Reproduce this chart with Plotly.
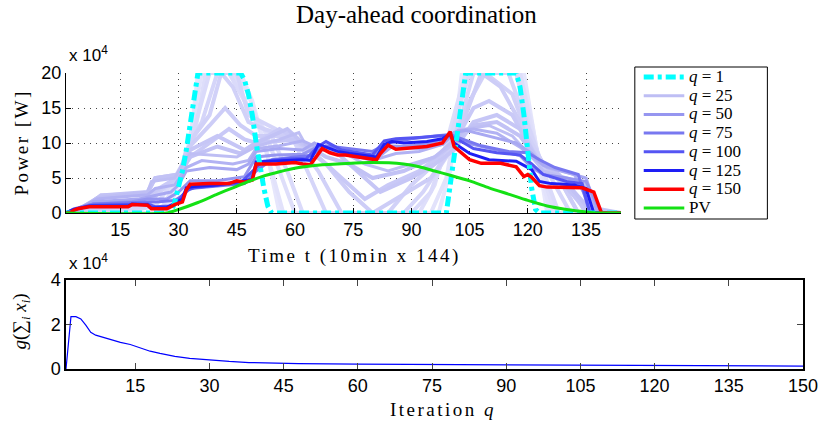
import plotly.graph_objects as go

# ---------------- data (power in units of 1e4 W) ----------------
t_q1 = [1, 28, 29, 30, 31, 32, 33, 34, 35, 46, 47, 48, 49, 50, 51, 52, 53, 54, 99, 100, 101, 102, 103, 104, 117, 118, 119, 120, 121, 122, 123, 144]
p_q1 = [0, 0, 1.5, 3.5, 6, 9, 12.5, 16.5, 20, 20, 19, 17, 14, 10, 6.5, 3.5, 1, 0, 0, 4, 9, 13, 17, 20, 20, 18, 14, 9, 3.5, 0.5, 0, 0]

t_q2 = [1, 27, 30, 33, 35, 46, 49, 53, 56, 97, 100, 103, 119, 122, 125, 144]
p_q2 = [0, 0, 4, 10, 20, 20, 16, 8, 0, 0, 6, 20, 20, 10, 0, 0]

t_q3 = [1, 26, 29, 32, 36, 45, 48, 52, 57, 95, 99, 102, 104, 118, 121, 124, 126, 144]
p_q3 = [0, 0, 3, 8, 20, 20, 17, 10, 0, 0, 5, 14, 20, 20, 13, 4, 0, 0]

t_q4 = [1, 25, 28, 31, 34, 37, 44, 48, 52, 56, 60, 92, 96, 100, 104, 118, 121, 124, 127, 144]
p_q4 = [0, 0, 3, 6, 11, 20, 20, 15, 12, 6, 0, 0, 4, 12, 20, 20, 12, 5, 0, 0]

t_q5 = [1, 15, 24, 28, 32, 38, 43, 47, 50, 54, 58, 62, 90, 95, 99, 105, 117, 120, 124, 128, 144]
p_q5 = [0, 0, 1, 4, 8, 20, 20, 16, 13, 11, 6, 0, 0, 3, 9, 20, 20, 13, 6, 0, 0]

t_q7 = [1, 8, 22, 25, 30, 33, 36, 40, 45, 48, 55, 60, 64, 68, 88, 93, 99, 103, 106, 115, 119, 123, 127, 131, 144]
p_q7 = [0, 0, 1, 3, 5, 10, 13, 20, 20, 14, 12, 10, 5, 0, 0, 3, 8, 14, 20, 20, 14, 8, 4, 0, 0]

t_q9 = [1, 10, 22, 26, 30, 34, 38, 41, 44, 48, 52, 58, 62, 66, 72, 84, 90, 96, 101, 105, 109, 116, 120, 124, 129, 133, 144]
p_q9 = [0, 0.5, 1.5, 3.5, 5, 11, 14, 20, 18, 13, 12, 11, 9, 6, 0, 0, 4, 7, 11, 16, 20, 17, 11, 7, 4, 0, 0]

t_q12 = [1, 6, 20, 24, 30, 32, 38, 42, 46, 50, 58, 62, 68, 74, 80, 86, 95, 100, 104, 108, 113, 118, 122, 128, 133, 144]
p_q12 = [0, 0.5, 1.5, 3, 5, 9, 12.5, 15, 12.5, 11, 11, 9.5, 7, 3, 0, 2, 5, 9, 14, 20, 18, 13, 8, 5, 0, 0]

t_q14 = [1, 7, 20, 24, 30, 33, 38, 43, 47, 50, 56, 62, 66, 72, 78, 84, 92, 98, 102, 106, 110, 116, 120, 124, 130, 135, 144]
p_q14 = [0, 1, 2, 3.2, 5.2, 8, 10, 12, 10.5, 10, 12, 10, 8, 5, 2, 4, 6, 8.5, 11, 15, 16, 14, 10, 6.5, 4.5, 0, 0]

t_q18 = [1, 5, 10, 22, 24, 30, 33, 40, 47, 50, 60, 64, 70, 76, 82, 90, 96, 101, 106, 112, 118, 122, 128, 134, 144]
p_q18 = [0, 0.5, 2.5, 2.8, 5, 5.5, 9, 11, 9, 10, 10.5, 9, 9, 6, 3, 5, 7, 9, 13, 14, 12, 8, 5, 1, 0]

t_q21 = [1, 5, 10, 22, 24, 30, 33, 40, 46, 50, 58, 62, 68, 74, 80, 88, 96, 101, 106, 112, 118, 122, 128, 136, 144]
p_q21 = [0, 0.5, 2.5, 3, 5, 5.5, 8, 9.5, 8.5, 10, 12, 10, 8, 7, 5, 6, 8, 10, 12.5, 13, 11, 8, 5.5, 0.5, 0]

t_q25 = [1, 4, 9, 22, 23, 29, 31, 33, 45, 50, 56, 61, 63, 68, 73, 78, 84, 90, 96, 100, 104, 110, 116, 121, 124, 130, 135, 138, 144]
p_q25 = [0, 0.5, 2.2, 3, 4.5, 5, 7, 8.5, 8, 9.5, 10.5, 11.5, 9.5, 9, 8.5, 7, 6, 7, 8, 10, 12, 12.5, 11, 8, 6, 5, 4, 0, 0]

t_q30 = [1, 4, 9, 22, 24, 29, 32, 36, 44, 48, 50, 56, 62, 66, 72, 80, 86, 92, 98, 102, 106, 112, 118, 121, 125, 132, 137, 144]
p_q30 = [0, 0.6, 2.0, 2.6, 3.5, 4.0, 6.5, 7.5, 7.0, 7.5, 9.2, 9.6, 10.3, 9.3, 8.6, 7.5, 8.5, 8.8, 9.8, 11.8, 12.0, 11.4, 9.4, 8.0, 6.5, 5.5, 0, 0]

t_q35 = [1, 4, 8, 20, 23, 28, 30, 32, 38, 45, 48, 50, 56, 62, 65, 70, 76, 82, 85, 92, 98, 101, 104, 110, 117, 121, 124, 130, 135, 138, 144]
p_q35 = [0, 0.6, 1.6, 2.0, 2.4, 3.0, 4.0, 6.0, 6.5, 6.2, 7.0, 8.8, 9.2, 9.0, 10.0, 8.6, 8.0, 8.2, 9.5, 9.2, 9.8, 11.5, 11.8, 11.0, 10.0, 8.5, 6.8, 5.8, 5.0, 0, 0]

t_q50 = [1, 4, 8, 18, 22, 27, 30, 33, 40, 47, 50, 55, 62, 66, 72, 80, 83, 88, 95, 100, 102, 110, 118, 121, 124, 130, 135, 139, 144]
p_q50 = [0, 0.5, 1.3, 1.6, 2, 2, 3, 4.6, 4.6, 5.2, 8, 8.3, 8.4, 9.5, 9, 8.2, 9.6, 9.5, 10, 10.8, 10.3, 9.3, 8.2, 6.5, 5.5, 5, 4.5, 0, 0]

t_q75 = [1, 3, 8, 20, 25, 29, 31, 33, 40, 47, 50, 54, 60, 64, 68, 73, 80, 84, 90, 96, 100, 103, 108, 115, 120, 123, 127, 133, 136, 144]
p_q75 = [0, 0.6, 1.3, 1.5, 1.6, 1.8, 2.5, 3.5, 3.8, 4.2, 6.0, 7.6, 8.0, 8.2, 9.6, 9.3, 8.8, 10.0, 10.6, 11.0, 11.2, 10.6, 9.6, 8.8, 8.6, 7.6, 6.5, 5.5, 0, 0]

t_q100 = [1, 3, 8, 17, 22, 24, 28, 30, 32, 34, 40, 46, 50, 52, 58, 63, 66, 68, 72, 80, 83, 86, 92, 97, 100, 102, 106, 112, 118, 121, 124, 130, 134, 136, 144]
p_q100 = [0, 0.5, 1.1, 1.2, 1.3, 0.9, 1.0, 1.8, 3.2, 3.6, 4.0, 4.3, 6.5, 7.4, 7.7, 7.8, 9.5, 10.2, 9.0, 8.3, 10.3, 10.6, 10.8, 11.0, 11.0, 10.5, 9.2, 8.6, 8.3, 7.0, 5.5, 4.5, 4.2, 0, 0]

t_q125 = [1, 3, 7, 17, 18, 22, 23, 27, 29, 31, 32, 34, 40, 45, 49, 50, 56, 62, 64, 66, 68, 71, 74, 81, 83, 85, 88, 94, 98, 100, 101, 105, 110, 117, 119, 121, 123, 126, 132, 135, 137, 144]
p_q125 = [0, 0.5, 1.0, 1.0, 1.3, 1.2, 0.7, 0.8, 1.4, 2.0, 3.6, 3.8, 4.0, 4.5, 4.8, 7.3, 7.5, 7.6, 7.5, 9.8, 9.4, 8.8, 8.5, 8.0, 9.8, 10.2, 10.0, 10.2, 10.6, 11.3, 10.0, 8.5, 7.6, 7.4, 6.8, 6.2, 4.5, 4.2, 4.0, 3.5, 0, 0]

t_q150 = [1, 2, 3, 4, 7, 17, 18, 22, 23, 27, 29, 31, 32, 33, 38, 43, 45, 47, 49, 50, 55, 60, 62, 64, 67, 69, 71, 73, 81, 82, 84, 86, 94, 98, 100, 101, 105, 108, 113, 117, 119, 120, 121, 123, 125, 132, 134, 137, 139, 144]
p_q150 = [0, 0, 0.4, 0.6, 0.9, 0.9, 1.2, 1.1, 0.6, 0.6, 1.2, 1.6, 3.3, 4.1, 4.2, 4.2, 4.6, 4.4, 4.7, 7.0, 7.0, 7.2, 7.0, 6.9, 9.2, 8.6, 8.3, 8.3, 7.6, 8.5, 9.7, 9.1, 9.5, 10.0, 11.6, 9.5, 7.6, 7.1, 7.1, 6.6, 5.2, 5.5, 5.1, 3.9, 3.7, 3.7, 3.6, 3.0, 0, 0]

t_pv = [1, 27, 30, 35, 40, 44, 48, 52, 56, 61, 65, 71, 79, 88, 92, 96, 100, 105, 110, 115, 120, 125, 130, 135, 138, 144]
p_pv = [0, 0, 0.5, 1.5, 2.7, 3.6, 4.5, 5.3, 5.9, 6.5, 6.8, 7.0, 7.2, 7.0, 6.6, 6.0, 5.4, 4.6, 3.6, 2.7, 1.8, 1.0, 0.5, 0.15, 0, 0]

iter_q = [1, 2, 3, 4, 5, 6, 7, 8, 10, 12, 14, 16, 18, 20, 23, 26, 30, 34, 38, 42, 48, 60, 75, 90, 105, 120, 135, 150]
g_val = [0, 2.35, 2.35, 2.25, 1.97, 1.65, 1.52, 1.45, 1.32, 1.2, 1.1, 0.95, 0.8, 0.7, 0.57, 0.48, 0.4, 0.34, 0.29, 0.26, 0.24, 0.22, 0.2, 0.18, 0.16, 0.15, 0.14, 0.13]

time_ticks = [15, 30, 45, 60, 75, 90, 105, 120, 135]
power_ticks = [0, 5, 10, 15, 20]
iter_ticks = [15, 30, 45, 60, 75, 90, 105, 120, 135, 150]
g_ticks = [0, 2, 4]

legend_q = [1, 25, 50, 75, 100, 125, 150]

SERIF = "Liberation Serif"
SANS = "Liberation Sans"

# ---- styles ----
C_Q1, C_Q25, C_Q50, C_Q75 = "#00ffff", "rgb(190,190,244)", "rgb(150,150,240)", "rgb(120,120,240)"
C_Q100, C_Q125, C_Q150, C_PV = "rgb(85,85,243)", "rgb(30,30,245)", "#ff0000", "rgb(20,225,20)"
DASH_Q1 = "10px,4px,4px,4px"


def it(s, size):
    return '<span style="font-style:italic;font-size:%dpx">%s</span>' % (size, s)


def rm(s, size):
    return '<span style="font-size:%dpx">%s</span>' % (size, s)


fig = go.Figure()

hidden = [
    (t_q2, p_q2, "rgb(230,230,252)"),
    (t_q3, p_q3, "rgb(226,226,251)"),
    (t_q4, p_q4, "rgb(222,222,250)"),
    (t_q5, p_q5, "rgb(218,218,250)"),
    (t_q7, p_q7, "rgb(213,213,249)"),
    (t_q9, p_q9, "rgb(209,209,248)"),
    (t_q12, p_q12, "rgb(205,205,247)"),
    (t_q14, p_q14, "rgb(201,201,247)"),
    (t_q18, p_q18, "rgb(198,198,246)"),
    (t_q21, p_q21, "rgb(194,194,245)"),
]
for tx, py, col in hidden:
    fig.add_trace(go.Scatter(x=tx, y=py, mode="lines", line=dict(color=col, width=4), hoverinfo="skip"))

series = [
    (t_q25, p_q25, C_Q25, 3, None, "q = 25"),
    (t_q30, p_q30, "rgb(178,178,243)", 3, None, "q = 30"),
    (t_q35, p_q35, "rgb(168,168,242)", 3, None, "q = 35"),
    (t_q50, p_q50, C_Q50, 3, None, "q = 50"),
    (t_q75, p_q75, C_Q75, 3, None, "q = 75"),
    (t_q100, p_q100, C_Q100, 3, None, "q = 100"),
    (t_q125, p_q125, C_Q125, 3, None, "q = 125"),
    (t_q1, p_q1, C_Q1, 5, DASH_Q1, "q = 1"),
    (t_q150, p_q150, C_Q150, 3.5, None, "q = 150"),
]
for tx, py, col, w, dash, nm in series:
    fig.add_trace(go.Scatter(x=tx, y=py, mode="lines", name=nm,
                             line=dict(color=col, width=w, dash=dash)))
fig.add_trace(go.Scatter(x=t_pv, y=p_pv, mode="lines", name="PV",
                         line=dict(color=C_PV, width=3, shape="spline", smoothing=0.6)))

fig.add_trace(go.Scatter(x=iter_q, y=g_val, mode="lines", line=dict(color="#0000ff", width=1.2),
                         xaxis="x2", yaxis="y2"))

axis_font = dict(family=SANS, size=18, color="black")
fig.update_layout(
    width=830, height=423,
    margin=dict(l=66, r=19, t=73, b=54),
    paper_bgcolor="white", plot_bgcolor="white",
    font=dict(family=SERIF, color="black"),
    showlegend=False,
    xaxis=dict(domain=[0, 0.753], range=[1, 144], tickvals=time_ticks, ticks="inside", ticklen=5,
               tickcolor="black", showline=True, linecolor="black", linewidth=1, zeroline=False,
               showgrid=True, gridcolor="#444", gridwidth=1, griddash="1px,5px", tickfont=axis_font,
               anchor="y"),
    yaxis=dict(domain=[0.527, 1], range=[0, 20], tickvals=power_ticks, ticks="inside", ticklen=5,
               tickcolor="black", showline=True, linecolor="black", linewidth=1, zeroline=False,
               showgrid=True, gridcolor="#444", gridwidth=1, griddash="1px,5px", tickfont=axis_font,
               anchor="x"),
    xaxis2=dict(domain=[0, 1], range=[1, 150], tickvals=iter_ticks, ticks="inside", ticklen=6,
                tickcolor="#444", showline=True, linecolor="black", linewidth=1.5, mirror="ticks",
                zeroline=False, showgrid=False, tickfont=axis_font, anchor="y2"),
    yaxis2=dict(domain=[0, 0.3007], range=[0, 4], tickvals=g_ticks, ticks="inside", ticklen=6,
                tickcolor="#444", showline=True, linecolor="black", linewidth=1.5, mirror="ticks",
                zeroline=False, showgrid=False, tickfont=axis_font, anchor="x2"),
)

# ---- legend box (paper coordinates) ----
W_PLOT, H_PLOT, L0, B0 = 745.0, 296.0, 66.0, 369.0
def px_x(px):
    return (px - L0) / W_PLOT
def px_y(py):
    return (B0 - py) / H_PLOT

ROW0, ROW_STEP = 77.0, 18.7
fig.add_shape(type="rect", xref="paper", yref="paper", x0=px_x(641), x1=px_x(775), y0=px_y(219), y1=px_y(67),
              line=dict(color="black", width=1), fillcolor="white", layer="above")
legend_items = [(it("q", 17) + rm(" = %d" % q, 17)) for q in legend_q] + [rm("PV", 17)]
legend_styles = [(C_Q1, 5, DASH_Q1), (C_Q25, 3, None), (C_Q50, 3, None), (C_Q75, 3, None),
                 (C_Q100, 3, None), (C_Q125, 3, None), (C_Q150, 3.5, None), (C_PV, 3, None)]
for i, (col, w, dash) in enumerate(legend_styles):
    yc = px_y(ROW0 + i * ROW_STEP)
    fig.add_shape(type="line", xref="paper", yref="paper", x0=px_x(650), x1=px_x(691), y0=yc, y1=yc,
                  line=dict(color=col, width=w, dash=dash), layer="above")
# all legend texts in one block; line pitch = 1.3 * font size = ROW_STEP
fig.add_annotation(xref="paper", yref="paper", x=px_x(694), y=px_y(ROW0 + 3.5 * ROW_STEP),
                   xanchor="left", yanchor="middle", align="left", showarrow=False,
                   text="<br>".join(legend_items),
                   font=dict(family=SERIF, size=ROW_STEP / 1.3, color="black"))

ls = "letter-spacing:2.5px;font-size:19px"
ann = [
    dict(text="Day-ahead coordination", x=0.475, y=1.199, font=dict(family=SERIF, size=25)),
    dict(text="x 10<sup>4</sup>", x=0.0013, y=1.02, xanchor="left", yanchor="bottom", font=dict(family=SANS, size=17)),
    dict(text="x 10<sup>4</sup>", x=0.0013, y=0.318, xanchor="left", yanchor="bottom", font=dict(family=SANS, size=17)),
    dict(text='<span style="%s">Power [W]</span>' % ls, x=-0.0617, y=0.7635, textangle=-90,
         font=dict(family=SERIF, size=19)),
    dict(text='<span style="%s">Time t (10min x 144)</span>' % ls, x=0.392, y=0.382,
         font=dict(family=SERIF, size=19)),
    dict(text='<span style="%s">Iteration </span>' % ls + it("q", 19), x=0.51, y=-0.1385,
         font=dict(family=SERIF, size=19)),
    dict(text=it("g", 19) + rm("(∑", 19) + "<sub>" + it("i", 13) + "</sub>" + rm(" ", 19) + it("x", 19)
         + "<sub>" + it("i", 13) + "</sub>" + rm(")", 19),
         x=-0.0617, y=0.159, textangle=-90, font=dict(family=SERIF, size=19)),
]
for a in ann:
    a.setdefault("xanchor", "center")
    a.setdefault("yanchor", "middle")
    fig.add_annotation(xref="paper", yref="paper", showarrow=False, **a)

fig.write_html("out.html")
